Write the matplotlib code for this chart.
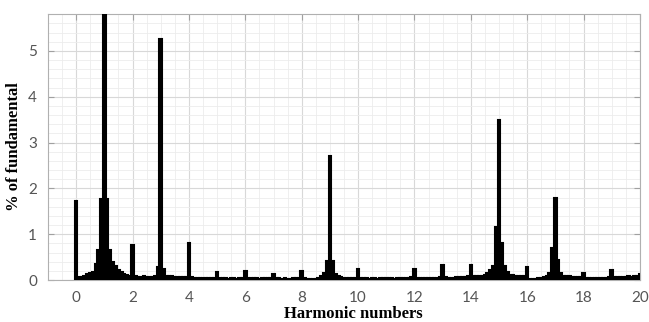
import numpy as np
import matplotlib
matplotlib.use("Agg")
import matplotlib.pyplot as plt
from matplotlib.ticker import MultipleLocator

# Harmonic order bins (step 0.1) and spectrum magnitude (% of fundamental)
harmonic = np.round(np.arange(0, 20.001, 0.1), 1)

values = [
    # 0.0 - 0.9
    1.72, 0.07, 0.07, 0.10, 0.13, 0.15, 0.17, 0.36, 0.65, 1.78,
    # 1.0 - 1.9
    5.95, 1.78, 0.65, 0.40, 0.30, 0.22, 0.18, 0.14, 0.12, 0.10,
    # 2.0 - 2.9
    0.77, 0.08, 0.07, 0.06, 0.08, 0.06, 0.07, 0.06, 0.10, 0.28,
    # 3.0 - 3.9
    5.27, 0.25, 0.10, 0.09, 0.08, 0.07, 0.07, 0.06, 0.06, 0.07,
    # 4.0 - 4.9
    0.80, 0.06, 0.05, 0.05, 0.04, 0.05, 0.04, 0.04, 0.05, 0.05,
    # 5.0 - 5.9
    0.17, 0.05, 0.04, 0.04, 0.03, 0.04, 0.04, 0.03, 0.04, 0.05,
    # 6.0 - 6.9
    0.21, 0.05, 0.04, 0.04, 0.04, 0.03, 0.04, 0.04, 0.04, 0.05,
    # 7.0 - 7.9
    0.14, 0.04, 0.04, 0.03, 0.04, 0.03, 0.03, 0.04, 0.04, 0.05,
    # 8.0 - 8.9
    0.21, 0.04, 0.03, 0.02, 0.02, 0.03, 0.05, 0.08, 0.15, 0.42,
    # 9.0 - 9.9
    2.70, 0.42, 0.14, 0.08, 0.06, 0.05, 0.05, 0.04, 0.05, 0.05,
    # 10.0 - 10.9
    0.24, 0.05, 0.04, 0.04, 0.03, 0.04, 0.04, 0.03, 0.04, 0.04,
    # 11.0 - 11.9
    0.05, 0.04, 0.04, 0.03, 0.04, 0.04, 0.04, 0.05, 0.05, 0.06,
    # 12.0 - 12.9
    0.25, 0.05, 0.04, 0.04, 0.04, 0.05, 0.05, 0.04, 0.05, 0.06,
    # 13.0 - 13.9
    0.32, 0.06, 0.05, 0.05, 0.05, 0.06, 0.06, 0.06, 0.07, 0.08,
    # 14.0 - 14.9
    0.34, 0.08, 0.08, 0.09, 0.10, 0.12, 0.15, 0.22, 0.30, 1.15,
    # 15.0 - 15.9
    3.50, 0.82, 0.30, 0.18, 0.12, 0.11, 0.10, 0.10, 0.09, 0.09,
    # 16.0 - 16.9
    0.29, 0.03, 0.03, 0.03, 0.04, 0.05, 0.07, 0.10, 0.16, 0.70,
    # 17.0 - 17.9
    1.80, 0.45, 0.16, 0.10, 0.09, 0.08, 0.07, 0.06, 0.06, 0.06,
    # 18.0 - 18.9
    0.16, 0.05, 0.05, 0.04, 0.05, 0.05, 0.04, 0.05, 0.05, 0.06,
    # 19.0 - 19.9
    0.23, 0.07, 0.06, 0.07, 0.06, 0.07, 0.08, 0.07, 0.08, 0.09,
    # 20.0
    0.14,
]

x_ticks = list(range(0, 21, 2))
y_ticks = [0, 1, 2, 3, 4, 5]

fig = plt.figure(figsize=(6.49, 3.22), dpi=100)
ax = fig.add_axes([0.074, 0.130, 0.912, 0.827])

ax.bar(harmonic, values, width=0.09, color="black", edgecolor="black",
       linewidth=1.5, zorder=3)

ax.set_xlim(-1, 20)
ax.set_ylim(0, 5.81)
ax.set_xticks(x_ticks)
ax.set_yticks(y_ticks)
ax.xaxis.set_minor_locator(MultipleLocator(0.5))
ax.yaxis.set_minor_locator(MultipleLocator(0.2))

ax.grid(which="major", color="#d8d8d8", linewidth=0.8, zorder=0)
ax.grid(which="minor", color="#ececec", linewidth=0.6, zorder=0)
ax.set_axisbelow(True)

ax.tick_params(which="major", direction="in", length=4, width=0.8,
               color="#a0a0a0", top=True, right=True,
               labelsize=11, labelcolor="#555555", pad=8)
ax.tick_params(which="minor", length=0, top=True, right=True)
for lbl in ax.get_xticklabels() + ax.get_yticklabels():
    lbl.set_family("Lato")

for sp in ax.spines.values():
    sp.set_color("#b0b0b0")
    sp.set_linewidth(0.8)

ax.set_xlabel("Harmonic numbers", family="Liberation Serif", fontweight="bold",
              fontsize=12)
ax.xaxis.set_label_coords(0.515, -0.098)
ax.set_ylabel("% of fundamental", family="Liberation Serif", fontweight="bold",
              fontsize=12, labelpad=4)

fig.savefig("out.png", dpi=100)
